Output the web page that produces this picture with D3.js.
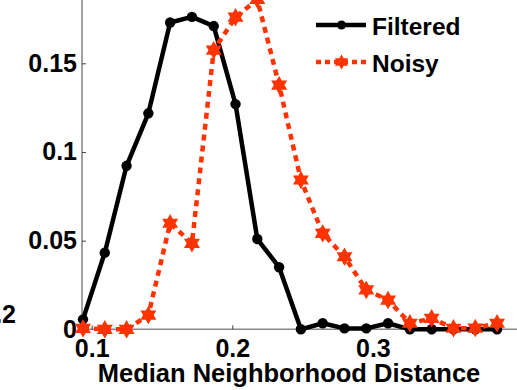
<!DOCTYPE html>
<html>
<head>
<meta charset="utf-8">
<script src="https://cdn.jsdelivr.net/npm/d3@7"></script>
<style>
  body { margin: 0; background: #fff; }
  svg { display: block; font-family: "Liberation Sans", Arial, sans-serif; font-weight: bold; }
</style>
</head>
<body>
<svg id="chart" width="517" height="390"></svg>
<script>
// bin centres (median neighbourhood distance)
const binCenters = [0.0938, 0.1093, 0.1248, 0.1403, 0.1558, 0.1713, 0.1868, 0.2023, 0.2178, 0.2333,
                    0.2488, 0.2643, 0.2798, 0.2953, 0.3108, 0.3263, 0.3418, 0.3573, 0.3728, 0.3883];
const filtered = [0.0056, 0.0432, 0.0922, 0.1218, 0.1730, 0.1762, 0.1710, 0.1270, 0.0509, 0.0350,
                  0, 0.0034, 0.0005, 0.0005, 0.0034, 0, 0, 0, 0, 0];
const noisy = [0.0005, 0, 0, 0.0080, 0.0598, 0.0485, 0.1574, 0.1760, 0.1860, 0.1377,
               0.0842, 0.0541, 0.0409, 0.0222, 0.0165, 0.0034, 0.0062, 0.0006, 0.0007, 0.0034];
const xTicks = [0.1, 0.2, 0.3];
const yTicks = [0, 0.05, 0.1, 0.15];
const seriesNames = ["Filtered", "Noisy"];

const svg = d3.select("#chart");
const left = 82, bottom = 329.3;

const x = d3.scaleLinear().domain([0.0931, 0.4025]).range([left, 517]);
const y = d3.scaleLinear().domain([0, 0.1857]).range([bottom, 0]);

// six pointed star like matlab's hexagram marker
const hexagram = {
  draw(ctx, size) {
    const R = Math.sqrt(size) * 0.62, r = R / Math.sqrt(3);
    for (let i = 0; i < 12; i++) {
      const a = -Math.PI / 2 + i * Math.PI / 6;
      const rad = i % 2 === 0 ? R : r;
      if (i === 0) ctx.moveTo(rad * Math.cos(a), rad * Math.sin(a));
      else ctx.lineTo(rad * Math.cos(a), rad * Math.sin(a));
    }
    ctx.closePath();
  }
};

// axes
const yAxis = svg.append("g")
  .attr("transform", `translate(${left},0)`)
  .call(d3.axisRight(y).tickValues(yTicks).tickSize(4).tickFormat(d3.format("")));
yAxis.select(".domain").attr("d", `M0,${bottom}V0`).attr("stroke", "#444");
yAxis.selectAll(".tick line").attr("stroke", "#444");
yAxis.selectAll(".tick text").attr("x", -5).attr("text-anchor", "end")
  .attr("font-size", 25).attr("font-weight", "bold").attr("fill", "#000").attr("font-family", null);

const xAxis = svg.append("g")
  .attr("transform", `translate(0,${bottom})`)
  .call(d3.axisTop(x).tickValues(xTicks).tickSize(4).tickFormat(d3.format("")));
xAxis.select(".domain").attr("d", `M${left},0H517`).attr("stroke", "#888").attr("stroke-width", 1.5);
xAxis.selectAll(".tick line").attr("stroke", "#444");
xAxis.selectAll(".tick text").attr("y", 27.5).attr("dy", 0)
  .attr("font-size", 25).attr("font-weight", "bold").attr("fill", "#000").attr("font-family", null);

svg.append("text")
  .attr("x", 289).attr("y", 382)
  .attr("text-anchor", "middle")
  .attr("font-size", 25.5)
  .text("Median Neighborhood Distance");

// leftover tick label from the neighbouring panel
svg.append("text")
  .attr("x", 16).attr("y", 323)
  .attr("text-anchor", "end")
  .attr("font-size", 25)
  .text("0.2");

const line = d3.line().x(d => x(d[0])).y(d => y(d[1]));

// filtered
const fData = binCenters.map((c, i) => [c, filtered[i]]);
svg.append("path").datum(fData)
  .attr("fill", "none").attr("stroke", "#000").attr("stroke-width", 4.5)
  .attr("stroke-linejoin", "round").attr("d", line);
svg.selectAll(".fdot").data(fData).enter().append("circle")
  .attr("cx", d => x(d[0])).attr("cy", d => y(d[1])).attr("r", 5.2).attr("fill", "#000");

// noisy
const red = "#ff3300";
const nData = binCenters.map((c, i) => [c, noisy[i]]);
svg.append("path").datum(nData)
  .attr("fill", "none").attr("stroke", red).attr("stroke-width", 4.5)
  .attr("stroke-dasharray", "6,5").attr("d", line);
const star = d3.symbol().type(hexagram).size(220);
svg.selectAll(".nstar").data(nData).enter().append("path")
  .attr("transform", d => `translate(${x(d[0])},${y(d[1])})`)
  .attr("d", star).attr("fill", red);

// legend
const leg = svg.append("g");
leg.append("line").attr("x1", 316).attr("x2", 366).attr("y1", 25).attr("y2", 25)
  .attr("stroke", "#000").attr("stroke-width", 4.5);
leg.append("circle").attr("cx", 341.5).attr("cy", 25).attr("r", 4.5).attr("fill", "#000");
leg.append("line").attr("x1", 316).attr("x2", 366).attr("y1", 62).attr("y2", 62)
  .attr("stroke", red).attr("stroke-width", 4.5).attr("stroke-dasharray", "5,4");
leg.append("path").attr("transform", "translate(341.5,62)")
  .attr("d", d3.symbol().type(hexagram).size(150)).attr("fill", red);
leg.selectAll(".lt").data(seriesNames).enter().append("text")
  .attr("x", 372).attr("y", (d, i) => 35 + i * 37)
  .attr("font-size", 24.5).text(d => d);
</script>
</body>
</html>
